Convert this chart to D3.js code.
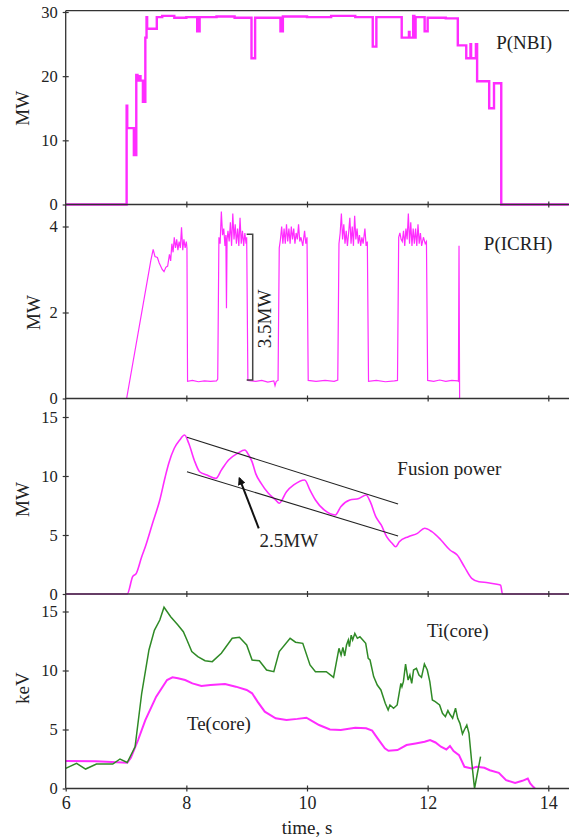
<!DOCTYPE html>
<html><head><meta charset="utf-8">
<script src="https://cdn.jsdelivr.net/npm/d3@7"></script>
<style>
body{margin:0;background:#fff;}
svg{display:block;}
text{font-family:"Liberation Serif","Times New Roman",serif;fill:#222;}
</style></head>
<body><svg id="c" width="569" height="839"></svg>
<script>
// ---------- data ----------
const xTicks = [6, 8, 10, 12, 14];
const nbiTicks = [0, 10, 20, 30];
const icrhTicks = [0, 2, 4];
const fusTicks = [0, 5, 10, 15];
const tempTicks = [0, 5, 10, 15];

// P(NBI), step-after: value holds from t until next t
const nbiT = [6.0,7.01,7.02,7.13,7.17,7.19,7.22,7.24,7.28,7.32,7.34,7.35,7.51,7.6,7.8,8.0,8.18,8.22,8.5,8.8,9.08,9.14,9.56,9.6,10.0,10.4,10.8,11.09,11.15,11.57,11.69,11.7,11.76,11.78,11.8,11.95,12.0,12.3,12.5,12.64,12.71,12.72,12.8,12.82,13.02,13.1,13.22,14.34];
const nbiV = [0,15.4,11.9,7.7,20.2,19.3,20.0,19.3,16.0,26.0,29.2,27.4,29.2,29.4,29.1,29.2,27.0,29.2,29.3,29.1,22.8,29.1,27.0,29.3,29.2,29.4,29.2,24.6,29.2,26.0,26.9,26.0,29.4,26.0,29.2,27.0,29.1,29.0,24.8,22.8,25.0,22.8,25.0,19.2,15.0,18.9,0,0];

// P(ICRH)
const icrhT = [6.0,7.01,7.41,7.45,7.48,7.52,7.55,7.6,7.63,7.66,7.69,7.72,7.74,7.76,7.78,7.8,7.82,7.84,7.86,7.88,7.9,7.92,7.94,7.96,7.98,8.0,8.01,8.02,
 8.1,8.2,8.3,8.4,8.5,8.52,
 8.54,8.56,8.58,8.6,8.62,8.64,8.655,8.665,8.675,8.69,8.71,8.73,8.75,8.77,8.79,8.81,8.83,8.85,8.87,8.89,8.91,8.93,8.95,8.97,8.99,9.0,9.02,
 9.15,9.25,9.35,9.45,9.47,9.49,9.52,
 9.54,9.56,9.58,9.6,9.62,9.64,9.66,9.68,9.7,9.72,9.74,9.76,9.78,9.8,9.82,9.84,9.86,9.88,9.9,9.93,9.96,9.98,10.0,10.02,
 10.15,10.3,10.45,10.51,
 10.53,10.55,10.57,10.59,10.61,10.63,10.65,10.67,10.69,10.71,10.73,10.75,10.77,10.79,10.81,10.83,10.85,10.87,10.89,10.91,10.93,10.96,10.98,11.0,11.02,
 11.15,11.3,11.45,11.5,
 11.52,11.54,11.56,11.58,11.6,11.62,11.64,11.66,11.68,11.7,11.72,11.74,11.76,11.78,11.8,11.82,11.84,11.86,11.88,11.9,11.93,11.96,11.98,12.0,
 12.1,12.2,12.3,12.4,12.5,12.51,12.52,12.53,14.34];
const icrhV = [0,0,3.2,3.47,3.3,3.28,3.15,3.0,2.95,3.05,3.08,3.35,3.2,3.6,3.4,3.75,3.5,3.7,3.45,3.65,3.5,3.98,3.45,3.7,3.5,3.65,3.5,0.4,
 0.42,0.39,0.41,0.4,0.41,0.45,
 3.75,3.6,4.35,3.8,3.95,3.55,3.8,2.1,3.7,3.9,3.65,4.1,3.55,4.3,3.7,4.05,3.6,3.95,3.55,4.2,3.6,3.9,3.55,3.85,3.6,3.75,0.42,
 0.4,0.42,0.38,0.41,0.3,0.4,0.42,
 3.5,3.7,4.0,3.6,3.95,3.6,4.05,3.65,3.95,3.6,4.0,3.7,3.95,3.6,3.85,3.7,4.05,3.65,3.75,3.55,3.9,3.6,3.75,0.42,
 0.4,0.42,0.4,0.43,
 3.6,3.85,4.3,3.7,4.05,3.6,3.9,3.55,3.85,4.2,3.6,4.0,3.55,4.25,3.7,3.95,3.6,3.8,3.55,3.75,3.6,3.95,3.55,3.65,0.4,
 0.42,0.39,0.41,0.42,
 3.75,3.85,3.7,3.65,3.9,3.55,3.95,3.7,4.3,3.6,4.1,3.55,3.95,3.6,3.95,3.55,4.05,3.6,3.85,3.55,3.75,3.6,3.65,0.42,
 0.4,0.43,0.4,0.42,0.41,0.4,3.55,0,0];

// Fusion power
const fusT = [6.0,7.02,7.11,7.17,7.26,7.32,7.44,7.56,7.65,7.71,7.8,7.89,7.97,8.04,8.13,8.22,8.34,8.49,8.58,8.7,8.85,8.97,9.03,9.09,9.15,9.24,9.36,9.48,9.54,9.66,9.78,9.96,10.05,10.14,10.29,10.47,10.56,10.71,10.86,10.98,11.05,11.14,11.23,11.32,11.41,11.47,11.53,11.68,11.83,11.95,12.07,12.22,12.37,12.49,12.61,12.73,12.85,13.0,13.15,13.21,13.24,14.34];
const fusV = [0,0,1.47,1.75,3.16,4.0,6.0,7.97,9.94,11.1,12.35,13.05,13.47,12.77,11.36,10.36,10.08,9.8,10.5,11.36,11.92,12.2,11.8,11.2,10.2,9.38,8.53,7.97,7.69,8.67,9.24,9.66,8.8,7.97,7.1,6.7,7.4,7.97,8.1,8.39,7.8,6.55,5.85,4.86,4.3,4.0,4.43,4.86,5.14,5.57,5.28,4.58,3.73,3.3,2.3,1.33,1.04,0.96,0.82,0.75,0,0];

// Ti(core)
const tiT = [6.0,6.18,6.33,6.51,6.78,6.9,7.02,7.15,7.26,7.38,7.47,7.56,7.63,7.74,7.86,7.95,8.01,8.09,8.19,8.31,8.43,8.58,8.76,8.88,9.0,9.09,9.21,9.33,9.45,9.54,9.72,9.81,9.93,10.05,10.14,10.32,10.44,10.53,10.565,10.595,10.625,10.655,10.685,10.703,10.733,10.757,10.793,10.835,10.877,10.925,10.973,11.015,11.045,11.105,11.165,11.225,11.297,11.345,11.375,11.435,11.495,11.556,11.574,11.598,11.634,11.676,11.706,11.736,11.766,11.814,11.856,11.898,11.946,11.994,12.036,12.078,12.126,12.198,12.246,12.294,12.336,12.366,12.414,12.462,12.498,12.535,12.577,12.607,12.649,12.685,12.727,12.777,12.877];
const tiV = [1.7,2.13,1.65,2.07,2.07,2.5,2.2,3.54,8.07,11.74,13.4,14.28,15.36,14.56,13.86,13.29,12.58,11.6,11.17,10.83,10.75,11.46,12.73,12.81,12.16,10.89,10.83,10.04,9.9,11.6,12.73,12.4,12.3,10.47,9.9,9.9,9.42,11.88,11.3,11.96,11.23,12.16,12.58,12.02,13.0,12.58,13.15,12.73,12.86,12.58,12.3,11.03,10.89,9.48,8.77,8.35,7.22,6.65,7.08,6.8,7.08,8.91,8.63,9.05,10.55,9.19,9.62,8.91,10.04,10.18,9.62,9.42,10.55,10.04,9.05,7.5,7.36,7.08,6.37,6.09,6.6,6.31,5.95,6.8,5.95,5.52,4.62,4.96,5.38,4.68,2.42,0,2.7];

// Te(core)
const teT = [6.0,6.5,7.02,7.08,7.2,7.32,7.5,7.68,7.77,7.86,7.98,8.1,8.25,8.4,8.64,8.82,9.0,9.09,9.18,9.3,9.48,9.66,9.84,9.99,10.08,10.2,10.38,10.56,10.8,10.98,11.08,11.17,11.29,11.35,11.5,11.65,11.8,11.95,12.04,12.13,12.22,12.31,12.37,12.43,12.52,12.61,12.73,12.81,12.94,13.03,13.18,13.3,13.45,13.57,13.66,13.7,13.75,13.78];
const teV = [2.33,2.3,2.19,2.6,4.11,5.8,7.78,9.19,9.42,9.34,9.19,8.91,8.69,8.77,8.85,8.63,8.35,8.07,7.36,6.51,5.95,5.81,5.9,6.0,5.74,5.38,5.0,4.96,5.15,5.1,4.9,4.25,3.4,3.2,3.26,3.68,3.82,3.96,4.11,3.9,3.54,3.31,3.6,3.17,2.83,1.84,1.7,1.84,1.76,1.55,1.33,0.7,0.47,0.65,0.85,0.42,0.14,0];

// annotations
const fusUpper = [[8.01,13.28],[11.51,7.63]];
const fusLower = [[8.01,10.36],[11.51,4.92]];
const fusArrow = [[9.2,5.57],[8.88,9.8]];
const icrhBracket = [[9.0,3.82],[9.1,3.82],[9.1,0.43],[9.0,0.43]];

// ---------- drawing ----------
const svg = d3.select("#c");
const W = 569;
const MAG = "#ff2cff", GRN = "#2f8a26", AX = "#333";
const x = d3.scaleLinear([6, 14], [65.7, 548.3]);
const y1 = d3.scaleLinear([0, 30], [204.5, 12]);
const y2 = d3.scaleLinear([0, 4], [398.5, 226.5]);
const y3 = d3.scaleLinear([0, 15], [594, 417]);
const y4 = d3.scaleLinear([0, 15], [788.5, 611.5]);

function zip(a, b) { return a.map((t, i) => [t, b[i]]); }
function line(y, curve) {
  const l = d3.line().x(d => x(d[0])).y(d => y(d[1]));
  if (curve) l.curve(curve);
  return l;
}

const plot = svg.append("g");
const defs = svg.append("defs");
defs.append("clipPath").attr("id", "clip").append("rect")
  .attr("x", x(6)).attr("y", 0).attr("width", W - x(6)).attr("height", 839);
plot.attr("clip-path", "url(#clip)");

plot.append("path").datum(zip(nbiT, nbiV)).attr("d", line(y1, d3.curveStepAfter))
  .attr("fill", "none").attr("stroke", MAG).attr("stroke-width", 2.4);
plot.append("path").datum(zip(icrhT, icrhV)).attr("d", line(y2))
  .attr("fill", "none").attr("stroke", MAG).attr("stroke-width", 1.2);
plot.append("path").datum(zip(fusT, fusV)).attr("d", line(y3, d3.curveMonotoneX))
  .attr("fill", "none").attr("stroke", MAG).attr("stroke-width", 1.6);
plot.append("path").datum(zip(teT, teV)).attr("d", line(y4))
  .attr("fill", "none").attr("stroke", MAG).attr("stroke-width", 2);
plot.append("path").datum(zip(tiT, tiV)).attr("d", line(y4))
  .attr("fill", "none").attr("stroke", GRN).attr("stroke-width", 1.5);

// annotation lines
svg.append("path").datum(icrhBracket).attr("d", line(y2))
  .attr("fill", "none").attr("stroke", "#444").attr("stroke-width", 1.5);
[fusUpper, fusLower].forEach(s => svg.append("path").datum(s).attr("d", line(y3))
  .attr("fill", "none").attr("stroke", "#222").attr("stroke-width", 1.1));
defs.append("marker").attr("id", "ah").attr("viewBox", "0 0 10 10")
  .attr("refX", 8).attr("refY", 5).attr("markerWidth", 4).attr("markerHeight", 4)
  .attr("orient", "auto").append("path").attr("d", "M0,0L10,5L0,10z").attr("fill", "#111");
svg.append("path").datum(fusArrow).attr("d", line(y3))
  .attr("fill", "none").attr("stroke", "#111").attr("stroke-width", 2)
  .attr("marker-end", "url(#ah)");

// frame
const frame = svg.append("g").attr("stroke", AX).attr("stroke-width", 1.3);
frame.append("line").attr("x1", x(6)).attr("x2", x(6)).attr("y1", y1(30.2)).attr("y2", y4(0));
frame.append("line").attr("x1", x(6)).attr("x2", W).attr("y1", y1(30.2)).attr("y2", y1(30.2));
[y1, y2, y3, y4].forEach(y => frame.append("line")
  .attr("x1", x(6)).attr("x2", W).attr("y1", y(0)).attr("y2", y(0)));

function styleAxis(g, showText, fs) {
  g.select(".domain").remove();
  g.selectAll(".tick line").attr("stroke", AX).attr("stroke-width", 1.2);
  g.selectAll(".tick text").attr("font-size", fs).attr("fill", "#222")
    .attr("font-family", "Liberation Serif, serif");
  if (!showText) g.selectAll(".tick text").remove();
}

// y axes
[[y1, nbiTicks], [y2, icrhTicks], [y3, fusTicks], [y4, tempTicks]].forEach(([y, tv]) => {
  svg.append("g").attr("transform", `translate(${x(6)},0)`)
    .call(d3.axisLeft(y).tickValues(tv).tickSize(3).tickPadding(5).tickFormat(d3.format("d")))
    .call(g => styleAxis(g, true, 16.5));
  svg.append("g").attr("transform", `translate(${x(6)},0)`)
    .call(d3.axisLeft(y).tickValues(tv.filter(v => v > 0)).tickSize(-3))
    .call(g => styleAxis(g, false, 16.5));
});

// x ticks on each panel bottom
[y1, y2, y3, y4].forEach((y, i) => {
  const last = i === 3;
  svg.append("g").attr("transform", `translate(0,${y(0)})`)
    .call(d3.axisBottom(x).tickValues(last ? xTicks : xTicks.slice(1)).tickSize(3).tickPadding(5).tickFormat(d3.format("d")))
    .call(g => styleAxis(g, last, 18));
  svg.append("g").attr("transform", `translate(0,${y(0)})`)
    .call(d3.axisBottom(x).tickValues(xTicks.slice(1)).tickSize(-3))
    .call(g => styleAxis(g, false, 18));
});

// axis titles
function vtext(cx, cy, s) {
  svg.append("text").attr("transform", `translate(${cx},${cy}) rotate(-90)`)
    .attr("text-anchor", "middle").attr("dominant-baseline", "central")
    .attr("font-size", 19).text(s);
}
vtext(22, y1(15), "MW");
vtext(33, y2(2), "MW");
vtext(22, y3(8), "MW");
vtext(22, y4(8.5), "keV");
svg.append("text").attr("x", x(10)).attr("y", 834).attr("text-anchor", "middle")
  .attr("font-size", 19).text("time, s");

// series labels
function label(t, v, y, s) {
  svg.append("text").attr("x", x(t)).attr("y", y(v)).attr("text-anchor", "middle")
    .attr("dominant-baseline", "central").attr("font-size", 19).text(s);
}
label(13.6, 25.2, y1, "P(NBI)");
label(13.5, 3.6, y2, "P(ICRH)");
label(12.36, 10.6, y3, "Fusion power");
label(9.7, 4.5, y3, "2.5MW");
label(12.5, 13.4, y4, "Ti(core)");
label(8.54, 5.5, y4, "Te(core)");
svg.append("text").attr("transform", `translate(${x(9.3)},${y2(1.85)}) rotate(-90)`)
  .attr("text-anchor", "middle").attr("dominant-baseline", "central")
  .attr("font-size", 19).text("3.5MW");
</script></body></html>
